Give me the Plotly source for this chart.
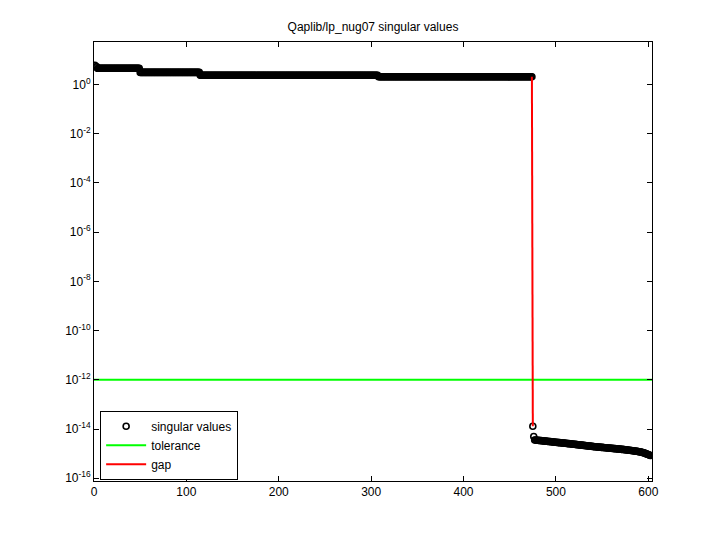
import numpy as np
import plotly.graph_objects as go

# Plateau singular values (value, count) for indices 1..474
plateau_values = [6.0, 5.2, 4.5, 3.06, 2.33, 2.03]
plateau_counts = [1, 2, 46, 65, 193, 167]

# Values just after the gap (indices 475, 476)
gap_values = [1.3e-14, 5.0e-15]

# Tail values (indices 477..602), in units of 1e-15
tail_values_e15 = [
    3.60, 3.57, 3.53, 3.50,
    3.47, 3.44, 3.41, 3.38, 3.35, 3.32, 3.29, 3.26, 3.23, 3.20,
    3.17, 3.14, 3.11, 3.08, 3.05, 3.02, 2.99, 2.96, 2.93, 2.90,
    2.87, 2.85, 2.82, 2.80, 2.77, 2.75, 2.72, 2.70, 2.67, 2.65,
    2.62, 2.60, 2.57, 2.55, 2.52, 2.50, 2.47, 2.45, 2.42, 2.40,
    2.38, 2.35, 2.33, 2.31, 2.28, 2.26, 2.24, 2.22, 2.19, 2.17,
    2.15, 2.13, 2.11, 2.08, 2.06, 2.04, 2.02, 2.00, 1.98, 1.96,
    1.94, 1.92, 1.91, 1.89, 1.87, 1.86, 1.84, 1.83, 1.81, 1.80,
    1.78, 1.77, 1.75, 1.74, 1.72, 1.71, 1.69, 1.68, 1.66, 1.65,
    1.64, 1.62, 1.61, 1.60, 1.58, 1.57, 1.56, 1.54, 1.53, 1.52,
    1.50, 1.49, 1.47, 1.46, 1.44, 1.43, 1.41, 1.40, 1.38, 1.37,
    1.35, 1.34, 1.32, 1.30, 1.29, 1.27, 1.25, 1.24, 1.22, 1.20,
    1.18, 1.16, 1.13, 1.11, 1.08, 1.05, 1.02, 0.98, 0.95, 0.92,
    0.88, 0.85,
]

tolerance = 1.0e-12
rank = 474
x_range = [0, 604]
y_tick_exps = [-16, -14, -12, -10, -8, -6, -4, -2, 0]

sv = np.concatenate([
    np.repeat(plateau_values, plateau_counts),
    np.array(gap_values),
    np.array(tail_values_e15) * 1e-15,
])
idx = np.arange(1, len(sv) + 1)

fig = go.Figure()
fig.add_trace(go.Scatter(
    x=idx, y=sv, mode="markers", name="singular values",
    marker=dict(symbol="circle-open", size=6, color="black",
                line=dict(width=1.6, color="black")),
))
fig.add_trace(go.Scatter(
    x=x_range, y=[tolerance, tolerance], mode="lines", name="tolerance",
    line=dict(color="#00ff00", width=2),
))
fig.add_trace(go.Scatter(
    x=[rank, rank + 1], y=[sv[rank - 1], sv[rank]], mode="lines", name="gap",
    line=dict(color="#ff0000", width=2),
))

font = dict(family="Liberation Sans, Arial, sans-serif", size=12, color="black")
fig.update_layout(
    width=720, height=540,
    paper_bgcolor="white", plot_bgcolor="white",
    margin=dict(l=94, r=68, t=42, b=59, autoexpand=False),
    font=font,
    title=dict(text="Qaplib/lp_nug07 singular values", x=0.5, xanchor="center",
               xref="paper",
               y=1 - 27 / 540, yanchor="middle", font=dict(size=12),
               automargin=False),
    showlegend=True,
    legend=dict(x=0.011, y=0.003, xanchor="left", yanchor="bottom",
                bordercolor="black", borderwidth=1, bgcolor="white",
                font=dict(size=12), tracegroupgap=0, itemwidth=40),
)
fig.update_xaxes(
    range=x_range, showgrid=False, zeroline=False, automargin=False,
    showline=True, linecolor="black", linewidth=1, mirror="ticks",
    ticks="inside", ticklen=5, tickcolor="black",
    tickvals=[0, 100, 200, 300, 400, 500, 600],
)
fig.update_yaxes(
    type="log", range=[-16.11, 1.72], showgrid=False, zeroline=False,
    automargin=False,
    showline=True, linecolor="black", linewidth=1, mirror="ticks",
    ticks="inside", ticklen=5, tickcolor="black",
    tickvals=[10.0 ** e for e in y_tick_exps],
    ticktext=["10<sup>%d</sup>" % e for e in y_tick_exps],
)

fig.write_html("out.html", config={"displayModeBar": False})

# remove the default 8px body margin of the browser
with open("out.html", "r", encoding="utf-8") as f:
    html = f.read()
html = html.replace("<head>", "<head><style>html,body{margin:0;padding:0;overflow:hidden;}</style>", 1)
with open("out.html", "w", encoding="utf-8") as f:
    f.write(html)
